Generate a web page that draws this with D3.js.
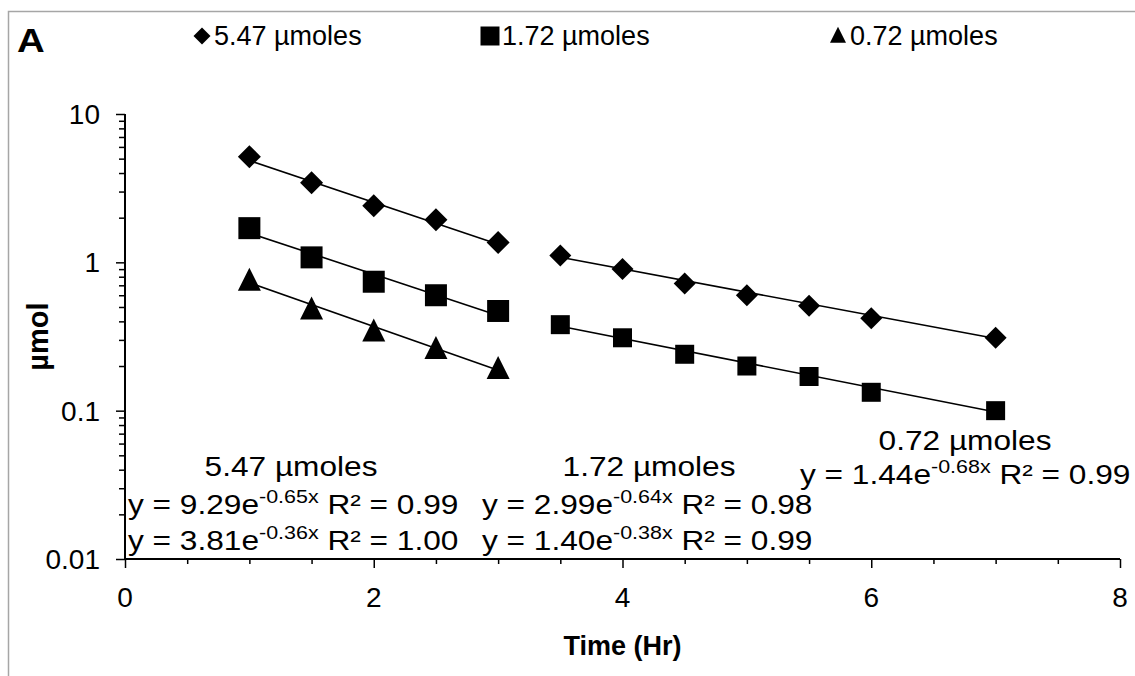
<!DOCTYPE html>
<html>
<head>
<meta charset="utf-8">
<script src="https://cdn.jsdelivr.net/npm/d3@7"></script>
<style>
  body { margin: 0; background: #fff; }
  text { font-family: "Liberation Sans", Arial, sans-serif; }
</style>
</head>
<body>
<div id="chart"></div>
<script>
// decay of three doses, log scale
const timeA = [1, 1.5, 2, 2.5, 3]
const timeB = [3.5, 4, 4.5, 5, 5.5, 6, 7]
const dose547A = [5.15, 3.44, 2.41, 1.94, 1.36]
const dose547B = [1.11, 0.90, 0.72, 0.60, 0.51, 0.42, 0.31]
const dose172A = [1.70, 1.08, 0.74, 0.60, 0.47]
const dose172B = [0.38, 0.31, 0.24, 0.20, 0.17, 0.133, 0.10]
const dose072A = [0.75, 0.48, 0.34, 0.26, 0.19]

const legendLabels = ["5.47 µmoles", "1.72 µmoles", "0.72 µmoles"]
const xTickLabels = [0, 2, 4, 6, 8]
const yTickLabels = [10, 1, 0.1, 0.01]

// exponential trendlines y = a*e^(b*x), as printed on the chart
const fitA = [9.29, 3.81, 2.99, 1.40, 1.44]
const fitB = [-0.65, -0.36, -0.64, -0.38, -0.68]
const fitR2 = ["0.99", "1.00", "0.98", "0.99", "0.99"]
const fitFrom = [1, 3.5, 1, 3.5, 1]
const fitTo = [3, 7, 3, 7, 3]

const width = 1135, height = 676
const margin = ({top: 114, right: 15, bottom: 117, left: 125})

let svg = d3.select("#chart").append("svg")
    .attr("width", width).attr("height", height)

// gray frame (only top + left show)
svg.append("path").attr("d", `M8.5,${height} V11.5 H${width}`)
    .attr("fill", "none").attr("stroke", "#a6a6a6").attr("stroke-width", 1.5)

let x = d3.scaleLinear().domain([0, 8]).range([margin.left, width - margin.right])
let y = d3.scaleLog().domain([0.01, 10]).range([height - margin.bottom, margin.top])

// x axis, minor ticks every 0.5
const xAxis = g => g
    .attr("transform", `translate(0, ${y(0.01)})`)
    .call(d3.axisBottom(x).tickValues(d3.range(0, 8.01, 0.5)).tickSize(5).tickFormat(""))
    .call(g => g.selectAll(".tick line").filter(d => d % 2 === 0).attr("y2", 9))
    .call(g => g.select(".domain").attr("stroke-width", 2).attr("d", `M${x(0)},0H${x(8)}`))
    .call(g => g.selectAll(".tick line").attr("stroke-width", 1.5))

const yTicks = []
for (let e = -2; e <= 0; e++) for (let m = 1; m <= 9; m++) yTicks.push(m * Math.pow(10, e))
yTicks.push(10)

const yAxis = g => g
    .attr("transform", `translate(${x(0)}, 0)`)
    .call(d3.axisLeft(y).tickValues(yTicks).tickSize(6).tickFormat(""))
    .call(g => g.selectAll(".tick line").filter(d => yTickLabels.includes(+d.toPrecision(3))).attr("x2", -9))
    .call(g => g.select(".domain").attr("stroke-width", 2).attr("d", `M0,${y(0.01)}V${y(10)}`))
    .call(g => g.selectAll(".tick line").attr("stroke-width", 1.5))

svg.append("g").call(xAxis)
svg.append("g").call(yAxis)

svg.append("g").selectAll("text").data(xTickLabels).join("text")
    .attr("x", d => x(d)).attr("y", y(0.01) + 48)
    .attr("text-anchor", "middle").attr("font-size", 28).text(d => d)

svg.append("g").selectAll("text").data(yTickLabels).join("text")
    .attr("x", x(0) - 25).attr("y", d => y(d) + 10)
    .attr("text-anchor", "end").attr("font-size", 28).text(d => d)

svg.append("text").attr("x", (x(0) + x(8)) / 2).attr("y", 655)
    .attr("text-anchor", "middle").attr("font-size", 27).attr("font-weight", "bold").text("Time (Hr)")

svg.append("text").attr("transform", `translate(48, ${y(Math.sqrt(0.1))}) rotate(-90)`)
    .attr("text-anchor", "middle").attr("font-size", 29).attr("font-weight", "bold").text("µmol")

svg.append("text").attr("transform", "translate(17, 52) scale(1.13, 1)")
    .attr("font-size", 34).attr("font-weight", "bold").text("A")

// trendlines
const lineGen = d3.line().x(d => x(d[0])).y(d => y(d[1]))
svg.append("g").selectAll("path").data(fitA).join("path")
    .attr("d", (a, i) => lineGen([fitFrom[i], fitTo[i]].map(t => [t, a * Math.exp(fitB[i] * t)])))
    .attr("fill", "none").attr("stroke", "black").attr("stroke-width", 1.6)

// markers
const diamond = s => `M0,${-s}L${s},0L0,${s}L${-s},0Z`
const square = s => `M${-s},${-s}H${s}V${s}H${-s}Z`
const triangle = s => `M0,${-s * 1.15}L${s},${s * 0.85}H${-s}Z`

function drawMarkers(times, vals, shape) {
    svg.append("g").selectAll("path").data(vals).join("path")
        .attr("transform", (d, i) => `translate(${x(times[i])}, ${y(d)})`)
        .attr("d", shape).attr("fill", "black")
}
drawMarkers(timeA, dose547A, diamond(11.5))
drawMarkers(timeB, dose547B, diamond(11))
drawMarkers(timeA, dose172A, square(11))
drawMarkers(timeB, dose172B, square(9.5))
drawMarkers(timeA, dose072A, triangle(11.5))

// legend
const legendX = [193, 481, 829]
const legendShapes = [diamond(8.5), square(9.5), triangle(8)]
let leg = svg.append("g").selectAll("g").data(legendLabels).join("g")
    .attr("transform", (d, i) => `translate(${legendX[i]}, 36)`)
leg.append("path").attr("transform", "translate(9,0)").attr("d", (d, i) => legendShapes[i]).attr("fill", "black")
leg.append("text").attr("x", 21).attr("y", 9).attr("font-size", 27).text(d => d)

// equation labels (text is a bit wide in the original)
const stretch = 1.13
function equation(i, ex, ey) {
    let t = svg.append("text").attr("transform", `translate(${ex}, ${ey}) scale(${stretch}, 1)`)
        .attr("font-size", 28)
    t.append("tspan").text(`y = ${fitA[i].toFixed(2)}e`)
    t.append("tspan").attr("font-size", 19).attr("dy", -11).text(`${fitB[i].toFixed(2)}x`)
    t.append("tspan").attr("dy", 11).text(` R² = ${fitR2[i]}`)
}
const title = (s, cx, cy) => svg.append("text")
    .attr("transform", `translate(${cx}, ${cy}) scale(${stretch}, 1)`)
    .attr("text-anchor", "middle").attr("font-size", 28).text(s)

title(legendLabels[0], 291, 476)
equation(0, 128, 514)
equation(1, 128, 550)
title(legendLabels[1], 649, 476)
equation(2, 482, 514)
equation(3, 482, 550)
title(legendLabels[2], 965, 450)
equation(4, 800, 484)
</script>
</body>
</html>
